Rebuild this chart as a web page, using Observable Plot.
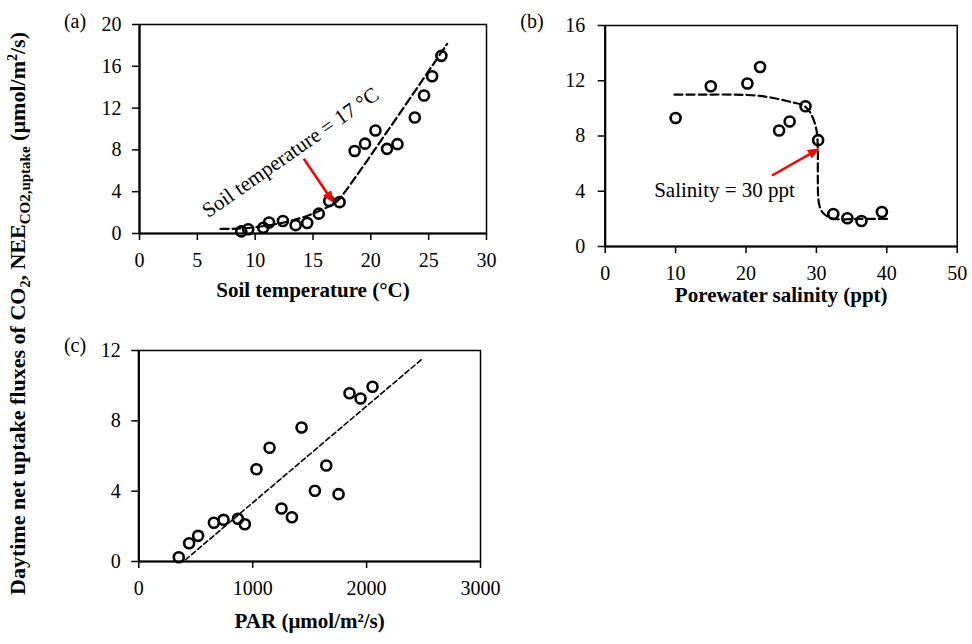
<!DOCTYPE html>
<html><head><meta charset="utf-8">
<script src="https://cdn.jsdelivr.net/npm/d3@7"></script>
<script src="https://cdn.jsdelivr.net/npm/@observablehq/plot@0.6"></script>
<style>
body{margin:0;background:#fff;}
#wrap{position:relative;width:972px;height:644px;overflow:hidden;background:#fff;font-family:"Liberation Serif","Times New Roman",serif;}
#wrap > *{position:absolute;}
#wrap svg text{font-family:"Liberation Serif","Times New Roman",serif;}
</style></head><body><div id="wrap"></div>
<script>
// ---- data ----
const soilTemp = [8.8, 9.4, 10.7, 11.2, 12.4, 13.5, 14.5, 15.5, 16.4, 17.3, 18.6, 19.5, 20.4, 21.4, 22.3, 23.8, 24.6, 25.3, 26.1];
const soilNEE  = [0.2, 0.4, 0.55, 1.05, 1.2, 0.8, 1.0, 1.9, 3.1, 3.0, 7.9, 8.6, 9.85, 8.1, 8.55, 11.1, 13.2, 15.05, 17.0];
const soilFitX = [7, 8, 9, 10, 11, 12, 13, 14, 15, 16, 17, 17.5, 26.6];
const soilFitY = [0.45, 0.45, 0.5, 0.6, 0.75, 0.95, 1.2, 1.5, 1.9, 2.4, 3.0, 3.6, 18.15];

const salinity = [10, 15, 20.2, 22, 24.7, 26.2, 28.45, 30.25, 32.4, 34.4, 36.4, 39.3];
const salNEE   = [9.3, 11.6, 11.8, 13.0, 8.4, 9.05, 10.15, 7.7, 2.35, 2.05, 1.85, 2.5];
const salFitX  = [9.85, 14, 18, 20.2, 22, 24.4, 26.5, 28.2, 29.0, 29.5, 29.9, 30.1, 30.2, 30.2, 30.3, 30.6, 31.05, 31.7, 32.5, 36, 40.05];
const salFitY  = [11.0, 11.0, 11.0, 10.97, 10.9, 10.7, 10.45, 10.2, 9.8, 9.3, 8.7, 8.1, 6.95, 5.0, 3.33, 2.7, 2.37, 2.15, 2.0, 2.0, 2.0];

const par     = [351, 442, 521, 659, 744, 870, 931, 1033, 1148, 1253, 1344, 1429, 1546, 1646, 1754, 1850, 1947, 2052];
const parNEE  = [0.24, 1.04, 1.46, 2.2, 2.37, 2.43, 2.12, 5.25, 6.47, 3.01, 2.52, 7.62, 4.02, 5.46, 3.83, 9.57, 9.27, 9.94];
const parFitX = [410, 2497];
const parFitY = [0.1, 11.57];

const ticksA_x = [0, 5, 10, 15, 20, 25, 30], ticksA_y = [0, 4, 8, 12, 16, 20];
const ticksB_x = [0, 10, 20, 30, 40, 50], ticksB_y = [0, 4, 8, 12, 16];
const ticksC_x = [0, 1000, 2000, 3000], ticksC_y = [0, 4, 8, 12];

const FONT = '"Liberation Serif","Times New Roman",serif';
const pts = (xs, ys) => xs.map((x, i) => ({x, y: ys[i]}));

function tri(color, context) {
  const doc = (context && context.document) || document;
  const ns = "http://www.w3.org/2000/svg";
  const m = doc.createElementNS(ns, "marker");
  m.setAttribute("viewBox", "-7 -5 12 10");
  m.setAttribute("markerWidth", 12);
  m.setAttribute("markerHeight", 10);
  m.setAttribute("markerUnits", "userSpaceOnUse");
  m.setAttribute("orient", "auto");
  m.setAttribute("refX", 2);
  m.setAttribute("refY", 0);
  const p = doc.createElementNS(ns, "path");
  p.setAttribute("d", "M-7,-5L5,0L-7,5Z");
  p.setAttribute("fill", color);
  p.setAttribute("stroke", "none");
  m.appendChild(p);
  return m;
}

function panel({width, height, ml, mr, mt, mb, xd, yd, xt, yt, xlab, labDy, pad, marks}) {
  return Plot.plot({
    width, height, marginLeft: ml, marginRight: mr, marginTop: mt, marginBottom: mb,
    style: {fontFamily: FONT, fontSize: "20px", color: "black", background: "none", overflow: "visible"},
    x: {domain: xd}, y: {domain: yd},
    marks: [
      Plot.frame({stroke: "black", strokeWidth: 1.5}),
      Plot.ruleX([xd[0]], {stroke: "black", strokeWidth: 2.2}),
      Plot.ruleY([yd[0]], {stroke: "black", strokeWidth: 2.2}),
      Plot.axisX({ticks: xt, tickSize: 7, tickPadding: 12, tickFormat: d => String(d), label: null, fontSize: 20, fontFamily: FONT, strokeWidth: 1.5}),
      Plot.axisY({ticks: yt, tickSize: 7, tickPadding: pad, tickFormat: d => String(d), label: null, fontSize: 20, fontFamily: FONT, strokeWidth: 1.5}),
      Plot.text([xlab], {frameAnchor: "bottom", dy: labDy, text: d => d, fontSize: 21, fontWeight: "bold", fontFamily: FONT, fill: "black"}),
      ...marks
    ]
  });
}

const wrap = document.getElementById("wrap");

// Panel (a)
const pa = panel({
  width: 440, height: 320, ml: 79, mr: 14, mt: 24, mb: 87,
  xd: [0, 30], yd: [0, 20], xt: ticksA_x, yt: ticksA_y,
  xlab: "Soil temperature (°C)", labDy: 63, pad: 11,
  marks: [
    Plot.line(pts(soilFitX, soilFitY), {x: "x", y: "y", stroke: "black", strokeWidth: 2.2, strokeDasharray: "8,4", curve: "catmull-rom"}),
    Plot.dot(pts(soilTemp, soilNEE), {x: "x", y: "y", r: 5, stroke: "black", strokeWidth: 2.6, fill: "none"}),
    Plot.link([{x1: 14.2, y1: 7.15, x2: 16.65, y2: 3.16}], {x1: "x1", y1: "y1", x2: "x2", y2: "y2", stroke: "#ff0000", strokeWidth: 2.5, markerEnd: tri}),
    Plot.text(["Soil temperature = 17 °C"], {x: 13.05, y: 7.75, text: d => d, rotate: -35, fontSize: 21, fontFamily: FONT, fill: "black"})
  ]
});
pa.style.left = "60px"; pa.style.top = "0px";
wrap.appendChild(pa);

// Panel (b)
const pb = panel({
  width: 432, height: 330, ml: 64.7, mr: 15.3, mt: 25, mb: 84,
  xd: [0, 50], yd: [0, 16], xt: ticksB_x, yt: ticksB_y,
  xlab: "Porewater salinity (ppt)", labDy: 55, pad: 13,
  marks: [
    Plot.line(pts(salFitX, salFitY), {x: "x", y: "y", stroke: "black", strokeWidth: 2.2, strokeDasharray: "8,4", curve: "catmull-rom"}),
    Plot.dot(pts(salinity, salNEE), {x: "x", y: "y", r: 5, stroke: "black", strokeWidth: 2.6, fill: "none"}),
    Plot.link([{x1: 23.7, y1: 5.14, x2: 30.1, y2: 7.0}], {x1: "x1", y1: "y1", x2: "x2", y2: "y2", stroke: "#ff0000", strokeWidth: 2.5, markerEnd: tri}),
    Plot.text(["Salinity = 30 ppt"], {x: 16.95, y: 4.05, text: d => d, fontSize: 21, fontFamily: FONT, fill: "black"})
  ]
});
pb.style.left = "540px"; pb.style.top = "0px";
wrap.appendChild(pb);

// Panel (c)
const pc = panel({
  width: 440, height: 324, ml: 78.3, mr: 20, mt: 30, mb: 83,
  xd: [0, 3000], yd: [0, 12], xt: ticksC_x, yt: ticksC_y,
  xlab: "PAR (μmol/m²/s)", labDy: 66, pad: 11,
  marks: [
    Plot.line(pts(parFitX, parFitY), {x: "x", y: "y", stroke: "black", strokeWidth: 1.6, strokeDasharray: "5,3"}),
    Plot.dot(pts(par, parNEE), {x: "x", y: "y", r: 5, stroke: "black", strokeWidth: 2.6, fill: "none"})
  ]
});
pc.style.left = "60px"; pc.style.top = "320px";
wrap.appendChild(pc);

// Overlay: panel letters and the shared y-axis title
const ov = d3.select(wrap).append("svg")
  .attr("width", 972).attr("height", 644)
  .style("left", "0px").style("top", "0px").style("pointer-events", "none")
  .style("font-family", FONT);
const letters = [["(a)", 75, 21], ["(b)", 532, 21], ["(c)", 75, 345]];
ov.selectAll("text.lt").data(letters).join("text").attr("class", "lt")
  .attr("x", d => d[1]).attr("y", d => d[2]).attr("dy", "0.35em")
  .attr("text-anchor", "middle").attr("font-size", 20).text(d => d[0]);

const yl = ov.append("text")
  .attr("transform", "translate(25,313.5) rotate(-90)")
  .attr("text-anchor", "middle").attr("font-size", 22).attr("font-weight", "bold");
yl.append("tspan").text("Daytime net uptake fluxes of CO");
yl.append("tspan").attr("font-size", 14).attr("dy", 5).text("2");
yl.append("tspan").attr("dy", -5).text(", NEE");
yl.append("tspan").attr("font-size", 15).attr("dy", 5).text("CO2,uptake");
yl.append("tspan").attr("dy", -5).text(" (µmol/m");
yl.append("tspan").attr("font-size", 14).attr("dy", -8).text("2");
yl.append("tspan").attr("dy", 8).text("/s)");
</script></body></html>
